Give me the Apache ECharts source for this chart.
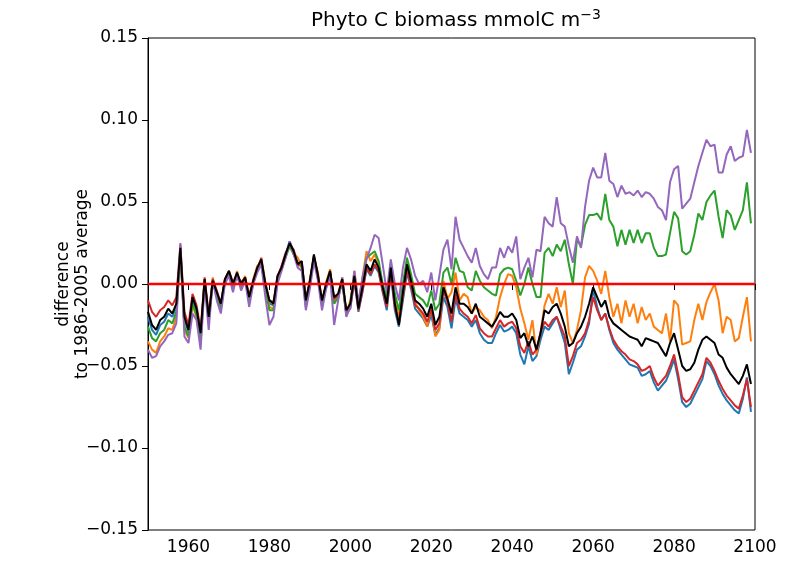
<!DOCTYPE html>
<html>
<head>
<meta charset="utf-8">
<script src="https://cdn.jsdelivr.net/npm/echarts@6/dist/echarts.min.js"></script>
<style>html,body{margin:0;padding:0;background:#fff}#c{width:800px;height:564px}</style>
</head>
<body>
<div id="c"></div>
<script>
const startYear = 1950;
const xTicks = [1960, 1980, 2000, 2020, 2040, 2060, 2080, 2100];
const yTicks = [-0.15, -0.10, -0.05, 0.00, 0.05, 0.10, 0.15];

const blueVals = [
-0.020,-0.028,-0.031,-0.025,-0.023,-0.018,-0.020,-0.014,0.020,-0.022,
-0.029,-0.009,-0.016,-0.031,0.002,-0.021,0.002,-0.006,-0.013,0.002,
0.007,-0.001,0.006,-0.001,0.003,-0.009,0.001,0.009,0.014,-0.001,
-0.012,-0.013,0.004,0.010,0.018,0.026,0.020,0.012,0.013,-0.011,
0.001,0.017,0.004,-0.011,-0.001,0.007,-0.010,-0.008,0.002,-0.018,
-0.015,0.002,-0.017,-0.005,0.009,0.005,0.011,0.007,-0.005,-0.016,
0.006,-0.016,-0.026,-0.010,0.007,-0.003,-0.015,-0.018,-0.021,-0.026,
-0.019,-0.031,-0.027,-0.008,-0.014,-0.027,-0.009,-0.018,-0.020,-0.022,
-0.026,-0.022,-0.030,-0.034,-0.036,-0.036,-0.030,-0.025,-0.029,-0.028,
-0.026,-0.030,-0.043,-0.049,-0.038,-0.047,-0.044,-0.034,-0.026,-0.028,
-0.024,-0.020,-0.028,-0.036,-0.055,-0.048,-0.040,-0.038,-0.032,-0.024,
-0.003,-0.014,-0.022,-0.018,-0.028,-0.036,-0.040,-0.043,-0.046,-0.049,
-0.050,-0.051,-0.056,-0.055,-0.053,-0.060,-0.065,-0.062,-0.059,-0.053,
-0.046,-0.058,-0.072,-0.075,-0.073,-0.068,-0.063,-0.058,-0.047,-0.050,
-0.055,-0.062,-0.067,-0.071,-0.074,-0.077,-0.079,-0.070,-0.057,-0.078];

const orangeVals = [
-0.035,-0.040,-0.042,-0.035,-0.032,-0.027,-0.028,-0.020,0.020,-0.028,
-0.033,-0.013,-0.020,-0.036,0.003,-0.022,0.004,-0.006,-0.014,0.002,
0.007,-0.002,0.008,-0.002,0.005,-0.010,0.003,0.011,0.013,-0.002,
-0.014,-0.015,0.002,0.011,0.017,0.024,0.019,0.016,0.011,-0.012,
0.003,0.016,0.007,-0.012,0.001,0.009,-0.012,-0.006,0.004,-0.018,
-0.010,0.008,-0.012,0.004,0.020,0.014,0.018,0.012,-0.003,-0.010,
0.012,-0.010,-0.020,-0.004,0.013,0.003,-0.011,-0.016,-0.020,-0.026,
-0.014,-0.032,-0.028,0.002,-0.009,-0.005,0.007,-0.010,-0.006,-0.008,
-0.018,-0.014,-0.016,-0.020,-0.022,-0.027,-0.020,-0.008,0.000,0.006,
0.005,-0.002,-0.015,-0.024,-0.034,-0.022,-0.043,-0.029,-0.013,-0.006,
-0.012,-0.002,-0.014,-0.004,-0.030,-0.036,-0.028,-0.016,0.004,0.011,
0.008,0.002,-0.006,0.008,-0.008,-0.020,-0.012,-0.024,-0.010,-0.020,
-0.012,-0.024,-0.014,-0.022,-0.018,-0.026,-0.028,-0.030,-0.018,-0.035,
-0.010,-0.013,-0.037,-0.036,-0.035,-0.022,-0.012,-0.022,-0.011,-0.005,
0.000,-0.010,-0.030,-0.020,-0.022,-0.035,-0.033,-0.020,-0.008,-0.035];

const greenVals = [
-0.026,-0.033,-0.035,-0.030,-0.028,-0.022,-0.024,-0.017,0.019,-0.026,
-0.032,-0.012,-0.019,-0.034,0.001,-0.023,0.001,-0.007,-0.015,0.001,
0.006,-0.002,0.005,-0.002,0.003,-0.010,0.000,0.008,0.012,-0.003,
-0.016,-0.016,0.003,0.009,0.016,0.023,0.018,0.013,0.010,-0.014,
0.000,0.015,0.004,-0.013,-0.002,0.006,-0.012,-0.008,0.001,-0.019,
-0.012,0.005,-0.013,0.002,0.016,0.018,0.020,0.014,0.000,-0.008,
0.012,-0.006,-0.016,0.000,0.016,0.006,-0.006,-0.008,-0.010,-0.014,
-0.004,-0.016,-0.012,0.007,0.010,0.000,0.016,0.008,0.007,-0.002,
-0.004,0.008,0.002,-0.002,-0.004,-0.006,-0.007,0.006,0.009,0.010,
0.009,0.002,-0.007,0.000,0.010,0.000,-0.008,-0.008,0.019,0.022,
0.017,0.024,0.020,0.027,0.012,0.000,0.027,0.023,0.036,0.042,
0.042,0.043,0.039,0.055,0.039,0.035,0.023,0.033,0.024,0.033,
0.025,0.033,0.025,0.031,0.031,0.022,0.017,0.017,0.018,0.031,
0.044,0.040,0.020,0.018,0.020,0.030,0.043,0.039,0.050,0.054,
0.057,0.041,0.028,0.045,0.042,0.033,0.039,0.045,0.062,0.037];

const redVals = [
-0.010,-0.017,-0.020,-0.016,-0.014,-0.010,-0.013,-0.008,0.024,-0.017,
-0.025,-0.006,-0.013,-0.028,0.004,-0.019,0.003,-0.004,-0.012,0.003,
0.008,0.001,0.006,0.001,0.004,-0.007,0.002,0.009,0.016,0.001,
-0.010,-0.011,0.004,0.011,0.019,0.024,0.021,0.011,0.013,-0.009,
0.001,0.017,0.006,-0.010,-0.001,0.007,-0.009,-0.007,0.002,-0.017,
-0.014,0.003,-0.016,-0.004,0.010,0.006,0.012,0.008,-0.004,-0.014,
0.007,-0.014,-0.024,-0.008,0.009,-0.001,-0.013,-0.015,-0.018,-0.023,
-0.016,-0.028,-0.024,-0.004,-0.011,-0.023,-0.006,-0.015,-0.018,-0.020,
-0.024,-0.019,-0.027,-0.030,-0.032,-0.032,-0.027,-0.022,-0.026,-0.024,
-0.023,-0.027,-0.038,-0.042,-0.035,-0.043,-0.040,-0.030,-0.023,-0.026,
-0.022,-0.020,-0.026,-0.032,-0.050,-0.044,-0.036,-0.034,-0.030,-0.022,
-0.008,-0.016,-0.022,-0.018,-0.027,-0.034,-0.038,-0.041,-0.043,-0.046,
-0.047,-0.049,-0.053,-0.052,-0.050,-0.057,-0.062,-0.059,-0.056,-0.050,
-0.043,-0.055,-0.069,-0.072,-0.070,-0.065,-0.060,-0.055,-0.045,-0.048,
-0.053,-0.059,-0.064,-0.068,-0.071,-0.074,-0.076,-0.068,-0.058,-0.075];

const purpleVals = [
-0.040,-0.045,-0.044,-0.038,-0.035,-0.031,-0.030,-0.024,0.025,-0.032,
-0.036,-0.018,-0.022,-0.040,0.000,-0.028,0.002,-0.010,-0.018,0.000,
0.005,-0.005,0.006,-0.004,0.002,-0.014,0.000,0.007,0.012,-0.008,
-0.025,-0.020,0.000,0.008,0.016,0.026,0.018,0.010,0.008,-0.016,
-0.003,0.014,0.002,-0.016,-0.003,0.005,-0.025,-0.010,0.004,-0.020,
-0.014,0.008,-0.012,0.004,0.015,0.022,0.030,0.028,0.012,-0.005,
0.015,0.000,-0.010,0.010,0.022,0.015,0.005,0.000,0.002,-0.005,
0.007,-0.010,0.005,0.021,0.027,0.009,0.041,0.027,0.022,0.017,
0.013,0.022,0.011,0.006,0.003,0.010,0.010,0.022,0.016,0.023,
0.019,0.029,0.003,0.010,0.016,0.004,0.021,0.020,0.041,0.037,
0.035,0.053,0.037,0.035,0.023,0.013,0.029,0.022,0.047,0.063,
0.071,0.065,0.065,0.080,0.063,0.061,0.053,0.060,0.055,0.056,
0.054,0.057,0.053,0.056,0.055,0.052,0.047,0.045,0.039,0.062,
0.070,0.072,0.046,0.049,0.052,0.062,0.072,0.080,0.088,0.084,
0.085,0.068,0.068,0.079,0.084,0.075,0.077,0.078,0.094,0.080];

const blackVals = [
-0.017,-0.025,-0.028,-0.022,-0.020,-0.015,-0.018,-0.012,0.022,-0.020,
-0.028,-0.008,-0.015,-0.030,0.003,-0.020,0.002,-0.005,-0.012,0.003,
0.008,0.000,0.007,0.000,0.004,-0.008,0.002,0.010,0.015,0.000,
-0.010,-0.012,0.005,0.010,0.018,0.025,0.020,0.012,0.014,-0.010,
0.002,0.018,0.005,-0.010,0.000,0.008,-0.008,-0.006,0.003,-0.016,
-0.012,0.005,-0.015,-0.002,0.012,0.008,0.015,0.010,-0.002,-0.012,
0.010,-0.012,-0.025,-0.005,0.012,0.002,-0.010,-0.012,-0.015,-0.020,
-0.012,-0.025,-0.020,-0.002,-0.009,-0.018,-0.002,-0.012,-0.012,-0.014,
-0.018,-0.012,-0.020,-0.022,-0.024,-0.026,-0.022,-0.017,-0.020,-0.020,
-0.018,-0.022,-0.033,-0.030,-0.038,-0.032,-0.040,-0.030,-0.016,-0.018,
-0.014,-0.012,-0.018,-0.026,-0.038,-0.036,-0.030,-0.026,-0.020,-0.012,
-0.002,-0.008,-0.014,-0.010,-0.020,-0.024,-0.026,-0.028,-0.030,-0.032,
-0.033,-0.034,-0.038,-0.033,-0.034,-0.035,-0.036,-0.040,-0.044,-0.036,
-0.030,-0.040,-0.050,-0.053,-0.052,-0.048,-0.040,-0.034,-0.032,-0.034,
-0.036,-0.043,-0.045,-0.051,-0.055,-0.058,-0.061,-0.056,-0.049,-0.061];

const FONT = 'DejaVu Sans';
function pairs(vals){ return vals.map((v,i)=>[startYear+i, v]); }
function mk(name, vals, color){
  return {name:name, type:'line', data:pairs(vals), showSymbol:false, symbol:'none',
    lineStyle:{color:color, width:2}, itemStyle:{color:color}, animation:false, z:2};
}
const series = [
  mk('blue', blueVals, '#1f77b4'),
  mk('orange', orangeVals, '#ff7f0e'),
  mk('green', greenVals, '#2ca02c'),
  mk('red', redVals, '#d62728'),
  mk('purple', purpleVals, '#9467bd'),
  mk('black', blackVals, '#000000')
];
series[5].markLine = {silent:true, symbol:['none','none'], label:{show:false},
  lineStyle:{color:'#ff0000', width:2.4, type:'solid'}, data:[{yAxis:0}], animation:false};
series[5].z = 3;

const fmt = v => { const s = Math.abs(v) < 1e-9 ? '0.00' : v.toFixed(2); return s.replace('-', '\u2212'); };

const chart = echarts.init(document.getElementById('c'), null, {renderer:'canvas'});
chart.setOption({
  backgroundColor:'#ffffff',
  animation:false,
  title:{
    text:'{a|Phyto C biomass mmolC m}{b|\u22123}',
    left:451, top:3, textAlign:'center',
    textStyle:{fontWeight:'normal', rich:{
      a:{fontFamily:FONT, fontSize:20, fontWeight:'normal', color:'#000', lineHeight:26},
      b:{fontFamily:FONT, fontSize:14, fontWeight:'normal', color:'#000', verticalAlign:'top', lineHeight:26}
    }}
  },
  grid:{left:148, right:45, top:38, bottom:34, show:true, borderColor:'#000', borderWidth:1, containLabel:false},
  xAxis:{type:'value', min:1950, max:2100,
    axisLine:{show:true, lineStyle:{color:'#000', width:1}},
    axisTick:{show:true, length:6, lineStyle:{color:'#000'}, customValues:xTicks},
    axisLabel:{fontFamily:FONT, fontSize:17, color:'#000', margin:9, customValues:xTicks,
      formatter: v => String(Math.round(v))},
    splitLine:{show:false}},
  yAxis:{type:'value', min:-0.15, max:0.15, interval:0.05,
    axisLine:{show:true, lineStyle:{color:'#000', width:1}},
    axisTick:{show:true, length:6, lineStyle:{color:'#000'}, customValues:yTicks},
    axisLabel:{fontFamily:FONT, fontSize:17, color:'#000', margin:10, customValues:yTicks, formatter:fmt},
    splitLine:{show:false}},
  graphic:[{type:'text', x:73, y:284, rotation:Math.PI/2,
    style:{text:'difference\nto 1986-2005 average', fontFamily:FONT, fontSize:17, fill:'#000',
      align:'center', verticalAlign:'middle', lineHeight:19}}],
  series:series
});
</script>
</body>
</html>
